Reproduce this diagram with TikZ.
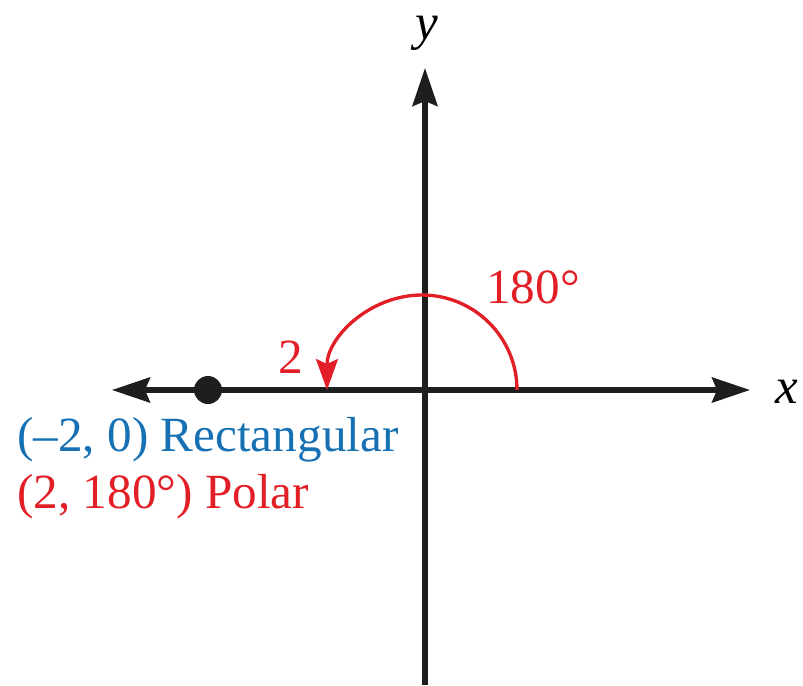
\documentclass[tikz,border=0pt]{standalone}
\usepackage{fontspec}
\setmainfont{Liberation Serif}
\usetikzlibrary{arrows.meta, positioning, calc}
\definecolor{rectblue}{RGB}{22, 112, 180}
\definecolor{polarred}{RGB}{226, 30, 38}
\definecolor{axisgray}{RGB}{30, 30, 30}

\begin{document}
\begin{tikzpicture}[
  x=2cm, y=2cm,
  axis/.style={-{Stealth[length=0.76cm, width=0.5cm, inset=0.1cm]}, line width=2.9pt, draw=axisgray},
  turn/.style={-{Stealth[length=0.62cm, width=0.44cm, inset=0.1cm]}, line width=1.9pt, draw=polarred},
  lbl/.style={font=\fontsize{28}{32}\selectfont, inner sep=0pt},
  dot/.style={circle, fill=axisgray, minimum size=0.56cm, inner sep=0pt}
]
  \useasboundingbox (-4.25,-2.95) rectangle (3.78,3.9);
  % axes
  \coordinate (origin) at (0,0);
  \coordinate (ybot) at (0,-2.95);
  \coordinate (ytop) at (0,3.22);
  \coordinate (xleft) at (-3.13,0);
  \coordinate (xright) at (3.25,0);
  \draw[axis] (ybot) -- (ytop);
  \draw[axis] (origin) -- (xleft);
  \draw[axis] (origin) -- (xright);
  \node[lbl, font=\fontsize{29}{32}\selectfont\itshape] (ylab) at (0.02,3.57) {y};
  \node[lbl, font=\fontsize{29}{32}\selectfont\itshape] (xlab) at (3.62,-0.02) {x};
  % point
  \node[dot] (pt) at (-2.17,0) {};
  % angle
  \coordinate (start) at (0.92,0);
  \draw[turn] (start) arc[start angle=0, end angle=180, radius=0.95];
  \node[lbl, text=polarred] (ang) at (1.08,1.03) {180°};
  \node[lbl, text=polarred] (rad) at (-1.34,0.33) {2};
  % labels
  \node[lbl, anchor=west, text=rectblue] (rect) at (-4.08,-0.5) {(--2, 0) Rectangular};
  \node[lbl, anchor=west, text=polarred] (polar) at (-4.08,-1.07) {(2, 180°) Polar};
\end{tikzpicture}
\end{document}
